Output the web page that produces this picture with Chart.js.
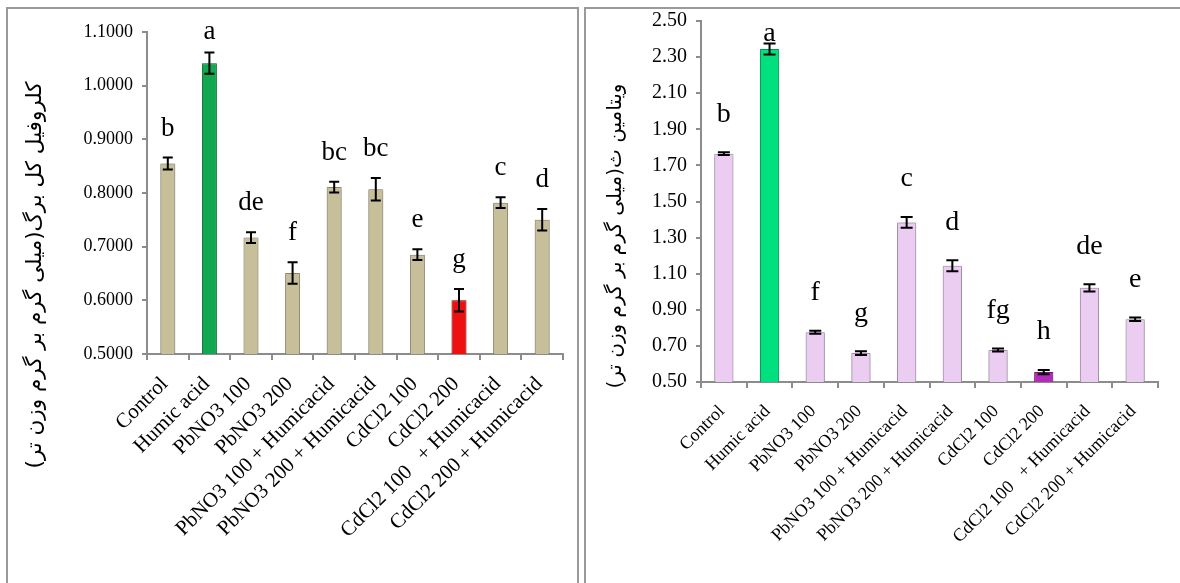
<!DOCTYPE html>
<html>
<head>
<meta charset="utf-8">
<script src="https://cdn.jsdelivr.net/npm/chart.js@4.4.0/dist/chart.umd.min.js"></script>
<style>
  body { margin: 0; background: #fff; width: 1180px; height: 583px; overflow: hidden; position: relative; }
  .panel { position: absolute; top: 7px; height: 600px; border: 2px solid #9a9a9a; box-sizing: border-box; }
  #leftBox { left: 6px; width: 573px; }
  #rightBox { left: 584px; width: 620px; }
  .wrap { position: absolute; top: 0; height: 583px; }
  #leftWrap { left: 0; width: 578px; }
  #rightWrap { left: 585px; width: 595px; }
</style>
</head>
<body>
<div class="panel" id="leftBox"></div>
<div class="panel" id="rightBox"></div>
<div class="wrap" id="leftWrap"><canvas id="chlChart"></canvas></div>
<div class="wrap" id="rightWrap"><canvas id="vitChart"></canvas></div>
<script>
const categories = ['Control', 'Humic acid', 'PbNO3 100', 'PbNO3 200', 'PbNO3 100 + Humicacid',
  'PbNO3 200 + Humicacid', 'CdCl2 100', 'CdCl2 200', 'CdCl2 100   + Humicacid', 'CdCl2 200 + Humicacid'];

// total chlorophyll (left)
const chlorophyll = [0.855, 1.042, 0.717, 0.651, 0.811, 0.807, 0.685, 0.600, 0.782, 0.750];
const chlorophyllErr = [0.011, 0.020, 0.010, 0.020, 0.010, 0.021, 0.010, 0.021, 0.010, 0.020];
const chlorophyllLetters = ['b', 'a', 'de', 'f', 'bc', 'bc', 'e', 'g', 'c', 'd'];
const chlorophyllTicks = [0.5, 0.6, 0.7, 0.8, 0.9, 1.0, 1.1];

// vitamin C (right)
const vitaminC = [1.765, 2.345, 0.776, 0.660, 1.384, 1.144, 0.677, 0.555, 1.022, 0.848];
const vitaminCErr = [0.008, 0.030, 0.008, 0.010, 0.030, 0.030, 0.008, 0.012, 0.020, 0.010];
const vitaminCLetters = ['b', 'a', 'f', 'g', 'c', 'd', 'fg', 'h', 'de', 'e'];
const vitaminCTicks = [0.5, 0.7, 0.9, 1.1, 1.3, 1.5, 1.7, 1.9, 2.1, 2.3, 2.5];

const serif = "'Liberation Serif', 'Times New Roman', serif";
const axisGray = '#8c8c8c';

// soft bar shadow, error bars, significance letters and the Persian y title
const barExtras = {
  id: 'barExtras',
  beforeDatasetsDraw(chart) {
    const ctx = chart.ctx;
    ctx.save();
    ctx.shadowColor = 'rgba(0,0,0,0.35)';
    ctx.shadowBlur = 4;
  },
  afterDatasetsDraw(chart, args, opts) {
    const ctx = chart.ctx;
    ctx.restore();
    const y = chart.scales.y;
    const vals = chart.data.datasets[0].data;
    ctx.save();
    ctx.strokeStyle = '#000';
    ctx.lineWidth = 2;
    ctx.fillStyle = '#000';
    ctx.font = opts.letterSize + 'px ' + serif;
    ctx.textAlign = 'center';
    ctx.textBaseline = 'middle';
    chart.getDatasetMeta(0).data.forEach((bar, i) => {
      const top = y.getPixelForValue(vals[i] + opts.err[i]);
      const bot = y.getPixelForValue(vals[i] - opts.err[i]);
      ctx.beginPath();
      ctx.moveTo(bar.x, top); ctx.lineTo(bar.x, bot);
      ctx.moveTo(bar.x - opts.cap, top); ctx.lineTo(bar.x + opts.cap, top);
      ctx.moveTo(bar.x - opts.cap, bot); ctx.lineTo(bar.x + opts.cap, bot);
      ctx.stroke();
      const ly = Math.max(top - opts.letterGap, chart.chartArea.top + opts.letterMinTop);
      ctx.fillText(opts.letters[i], bar.x, ly);
    });
    ctx.restore();
  },
  afterDraw(chart, args, opts) {
    const ctx = chart.ctx;
    ctx.save();
    ctx.translate(opts.titleX, opts.titleY);
    ctx.rotate(-Math.PI / 2);
    ctx.direction = 'rtl';
    ctx.textAlign = 'center';
    ctx.textBaseline = 'middle';
    ctx.fillStyle = '#000';
    ctx.font = opts.titleSize + "px 'DejaVu Sans', sans-serif";
    ctx.fillText(opts.title, 0, 0);
    ctx.restore();
  }
};

function makeChart(id, s) {
  return new Chart(document.getElementById(id), {
    type: 'bar',
    data: {
      labels: categories,
      datasets: [{
        data: s.values,
        backgroundColor: s.colors,
        borderColor: s.edges,
        borderWidth: 1,
        barPercentage: s.barPct,
        categoryPercentage: 1
      }]
    },
    options: {
      responsive: true,
      maintainAspectRatio: false,
      animation: false,
      layout: { padding: s.padding },
      plugins: {
        legend: { display: false },
        tooltip: { enabled: false },
        barExtras: {
          err: s.err, letters: s.letters, cap: s.cap,
          letterSize: s.letterSize, letterGap: s.letterGap, letterMinTop: s.letterMinTop,
          title: s.title, titleX: s.titleX, titleY: s.titleY, titleSize: s.titleSize
        }
      },
      scales: {
        x: {
          afterFit: sc => { sc.height = s.xHeight; },
          ticks: { autoSkip: false, minRotation: 45, maxRotation: 45, color: '#000',
                   padding: s.catPad, labelOffset: s.catShift,
                   font: { family: serif, size: s.catSize } },
          grid: { drawOnChartArea: false, offset: true, tickLength: 6, color: axisGray, lineWidth: 2 },
          border: { color: axisGray, width: 2 }
        },
        y: {
          min: s.ticks[0],
          max: s.ticks[s.ticks.length - 1],
          afterFit: sc => { sc.width = s.yWidth; },
          afterBuildTicks: sc => { sc.ticks = s.ticks.map(v => ({ value: v })); },
          ticks: { color: '#000', padding: 9, font: { family: serif, size: s.tickSize },
                   callback: v => Number(v).toFixed(s.decimals) },
          grid: { drawOnChartArea: false, tickLength: 5, color: axisGray, lineWidth: 2 },
          border: { color: axisGray, width: 2 }
        }
      }
    },
    plugins: [barExtras]
  });
}

const khaki = '#c6bf99', khakiEdge = '#9d977a';
makeChart('chlChart', {
  values: chlorophyll, err: chlorophyllErr, letters: chlorophyllLetters, ticks: chlorophyllTicks,
  colors: chlorophyll.map((v, i) => i === 1 ? '#12a852' : i === 7 ? '#ee1010' : khaki),
  edges: chlorophyll.map((v, i) => i === 1 ? '#0d7a3b' : i === 7 ? '#b00000' : khakiEdge),
  barPct: 0.36, padding: { left: 10, top: 32, right: 15, bottom: 0 },
  yWidth: 137, xHeight: 229, decimals: 4, tickSize: 18,
  catSize: 21, catPad: 12, catShift: -3,
  cap: 5, letterSize: 27, letterGap: 29, letterMinTop: 0,
  title: 'کلروفیل کل برگ(میلی گرم بر گرم وزن تر)', titleX: 35, titleY: 275, titleSize: 21.5
});

const pink = '#ebcdf2', pinkEdge = '#b89cc0';
makeChart('vitChart', {
  values: vitaminC, err: vitaminCErr, letters: vitaminCLetters, ticks: vitaminCTicks,
  colors: vitaminC.map((v, i) => i === 1 ? '#00e07e' : i === 7 ? '#b52ab8' : pink),
  edges: vitaminC.map((v, i) => i === 1 ? '#00a85e' : i === 7 ? '#7d1a80' : pinkEdge),
  barPct: 0.42, padding: { left: 10, top: 20, right: 22, bottom: 0 },
  yWidth: 106, xHeight: 201, decimals: 2, tickSize: 20,
  catSize: 18, catPad: 13, catShift: -2,
  cap: 6, letterSize: 28, letterGap: 38, letterMinTop: 13,
  title: 'ویتامین ث(میلی گرم بر گرم وزن تر)', titleX: 31, titleY: 236, titleSize: 20
});
</script>
</body>
</html>
